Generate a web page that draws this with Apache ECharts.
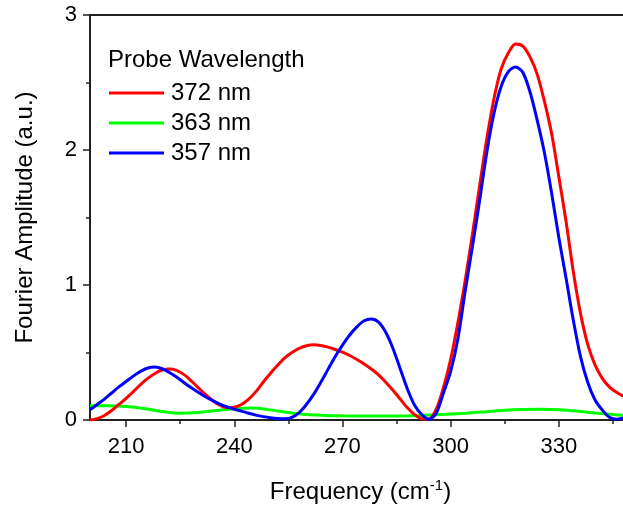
<!DOCTYPE html>
<html>
<head>
<meta charset="utf-8">
<script src="https://cdn.jsdelivr.net/npm/echarts@6/dist/echarts.min.js"></script>
<style>
html,body{margin:0;padding:0;background:#fff;}
#chart{width:623px;height:507px;}
</style>
</head>
<body>
<div id="chart"></div>
<script>
// ---- data ----
const seriesNames = ['372 nm', '363 nm', '357 nm'];
const xTickValues = [210, 240, 270, 300, 330];
const xMinorTickValues = [225, 255, 285, 315, 345];
const yTickLabels = ['0', '1', '2', '3'];

// frequencies (cm^-1) at which the red and blue curves were read
const freqFine = [200,202,204,206,208,210,212,214,216,218,220,222,224,226,228,230,232,234,236,238,240,242,244,246,248,250,252,254,256,258,260,262,264,266,268,270,272,274,276,278,280,282,284,286,288,290,292,294,296,298,300,302,304,306,308,310,312,314,316,318,320,322,324,326,328,330,332,334,336,338,340,342,344,346,348,350];
const amp372 = [0.00,0.01,0.033,0.07,0.115,0.16,0.21,0.262,0.308,0.345,0.37,0.378,0.368,0.338,0.292,0.24,0.19,0.145,0.11,0.092,0.095,0.115,0.155,0.21,0.28,0.345,0.405,0.46,0.5,0.53,0.55,0.557,0.552,0.54,0.522,0.502,0.478,0.448,0.415,0.378,0.335,0.28,0.22,0.155,0.09,0.04,0.01,0.008,0.08,0.24,0.45,0.72,1.03,1.37,1.73,2.08,2.38,2.6,2.72,2.785,2.77,2.69,2.56,2.36,2.12,1.8,1.47,1.1,0.79,0.56,0.41,0.31,0.245,0.205,0.175,0.16];
const amp357 = [0.075,0.115,0.155,0.2,0.245,0.285,0.325,0.36,0.385,0.392,0.38,0.352,0.318,0.278,0.24,0.205,0.172,0.143,0.118,0.097,0.08,0.066,0.05,0.036,0.025,0.017,0.012,0.01,0.02,0.055,0.115,0.19,0.28,0.375,0.47,0.555,0.63,0.69,0.735,0.748,0.725,0.65,0.53,0.38,0.23,0.11,0.04,0.005,0.05,0.2,0.36,0.6,0.95,1.28,1.62,1.98,2.27,2.47,2.58,2.615,2.575,2.43,2.22,1.98,1.68,1.35,1.05,0.74,0.47,0.28,0.15,0.075,0.02,0.005,0.015,0.03];

// frequencies at which the green curve was read
const freqCoarse = [200,205,210,215,220,225,230,235,240,245,250,255,260,265,270,275,280,285,290,295,300,305,310,315,320,325,330,335,340,345,350];
const amp363 = [0.105,0.105,0.1,0.085,0.063,0.05,0.055,0.07,0.083,0.088,0.075,0.055,0.04,0.034,0.031,0.03,0.03,0.03,0.032,0.038,0.045,0.052,0.062,0.072,0.078,0.08,0.076,0.066,0.052,0.04,0.03];

const colors = ['#ff0000', '#00ff00', '#0000ff'];
// ---------------------------------------

function pairs(xs, ys) { return xs.map((x, i) => [x, ys[i]]); }
const FONT = '"Liberation Sans", Arial, sans-serif';
const AX = '#222';

const chart = echarts.init(document.getElementById('chart'), null, {renderer: 'canvas'});
const dataSets = [pairs(freqFine, amp372), pairs(freqCoarse, amp363), pairs(freqFine, amp357)];

chart.setOption({
  animation: false,
  backgroundColor: '#fff',
  textStyle: {fontFamily: FONT},
  title: {
    text: 'Probe Wavelength',
    left: 108, top: 48, padding: 0,
    textStyle: {fontFamily: FONT, fontSize: 24, fontWeight: 'normal', color: '#000', lineHeight: 24}
  },
  legend: {
    orient: 'vertical',
    left: 109, top: 78, padding: 0,
    itemWidth: 55, itemHeight: 3, itemGap: 0,
    textStyle: {fontFamily: FONT, fontSize: 24, color: '#000', lineHeight: 30, padding: [0, 0, 0, 2]},
    data: seriesNames.map(n => ({name: n, icon: 'rect'}))
  },
  grid: {
    left: 90, right: -8, top: 15, bottom: 87,
    outerBoundsMode: 'none', containLabel: false,
    show: true, borderColor: AX, borderWidth: 2, backgroundColor: 'transparent'
  },
  xAxis: [{
    type: 'value', min: 200, max: 350, position: 'bottom',
    name: 'Frequency (cm{sup|-1})',
    nameLocation: 'middle', nameGap: 58,
    nameTextStyle: {
      fontFamily: FONT, fontSize: 24, color: '#000', lineHeight: 28,
      rich: {sup: {fontFamily: FONT, fontSize: 15, color: '#000', verticalAlign: 'top', lineHeight: 15}}
    },
    axisLine: {show: true, onZero: false, lineStyle: {color: AX, width: 2}},
    axisTick: {show: true, inside: false, length: 7, lineStyle: {color: AX, width: 1.5}, customValues: xTickValues},
    axisLabel: {show: true, margin: 16, fontFamily: FONT, fontSize: 22, color: '#000', customValues: xTickValues},
    splitLine: {show: false}
  }, {
    type: 'value', min: 200, max: 350, position: 'bottom',
    axisLine: {show: false},
    axisTick: {show: true, inside: false, length: 4, lineStyle: {color: AX, width: 1.5}, customValues: xMinorTickValues},
    axisLabel: {show: false},
    splitLine: {show: false}
  }],
  yAxis: {
    type: 'value', min: 0, max: 3, interval: 1,
    name: 'Fourier Amplitude (a.u.)',
    nameLocation: 'middle', nameGap: 53,
    nameTextStyle: {fontFamily: FONT, fontSize: 24, color: '#000'},
    axisLine: {show: true, onZero: false, lineStyle: {color: AX, width: 2}},
    axisTick: {show: true, inside: false, length: 7, lineStyle: {color: AX, width: 1.5}},
    minorTick: {show: true, splitNumber: 2, length: 4, lineStyle: {color: AX, width: 1.5}},
    axisLabel: {margin: 13, fontFamily: FONT, fontSize: 22, color: '#000',
      formatter: v => yTickLabels[Math.round(v)] ?? ''},
    splitLine: {show: false}
  },
  series: seriesNames.map((n, i) => ({
    name: n, type: 'line', xAxisIndex: 0,
    data: dataSets[i],
    smooth: 0.3, showSymbol: false, symbol: 'none',
    color: colors[i],
    lineStyle: {color: colors[i], width: 3},
    z: i === 1 ? 2 : (i === 0 ? 3 : 4)
  }))
});
</script>
</body>
</html>
